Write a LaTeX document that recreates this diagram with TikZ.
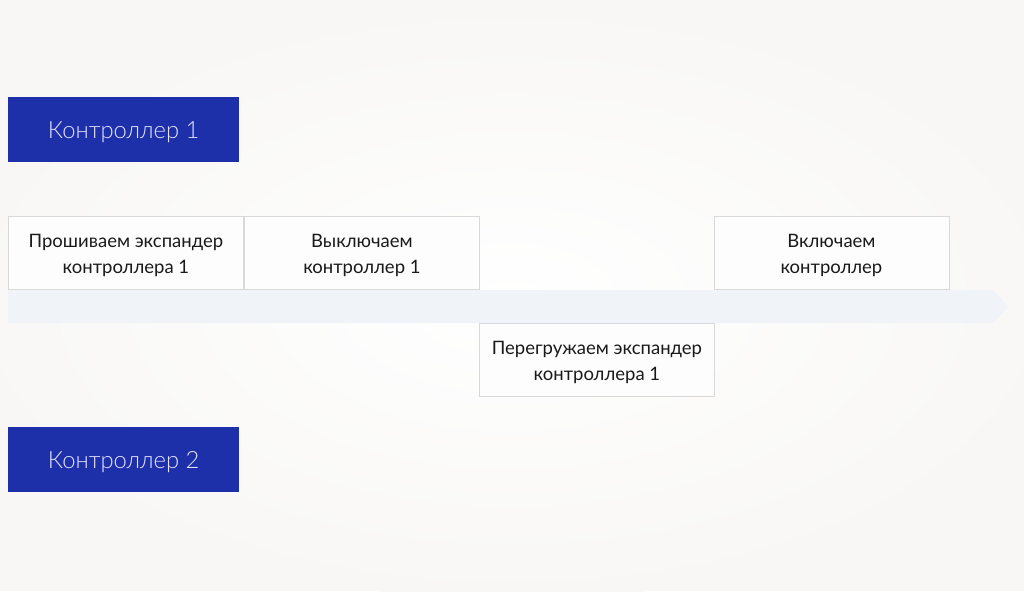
\documentclass[tikz,border=0pt]{standalone}
\usepackage{fontspec}
\setmainfont{Lato}
\newfontfamily\lightfont{Lato Light}
\definecolor{bgc}{HTML}{F8F7F5}
\definecolor{ctrlblue}{HTML}{1E2FAA}
\definecolor{ctrltext}{HTML}{E2E4FF}
\definecolor{boxline}{HTML}{D9D9D9}
\definecolor{boxfill}{HTML}{FDFDFD}
\definecolor{arrowfill}{HTML}{F0F3F7}
\definecolor{txt}{HTML}{1A1A1A}
\tikzset{
  ctrlbox/.style={fill=ctrlblue, draw=none, text=ctrltext, minimum width=231pt, minimum height=65pt,
    inner sep=0pt, anchor=north west, font=\lightfont\fontsize{23.8}{29}\selectfont},
  stagebox/.style={fill=boxfill, draw=boxline, line width=0.8pt, text=txt, minimum width=235pt, minimum height=73pt,
    inner sep=0pt, anchor=north west, align=center, font=\fontsize{18.5}{26}\selectfont},
  stagetext/.style={inner sep=0pt, align=center, text=txt, font=\fontsize{18.5}{26}\selectfont}
}
\begin{document}
\begin{tikzpicture}[x=1pt,y=-1pt]
\useasboundingbox (0,0) rectangle (1024,591);
\fill[bgc] (0,0) rectangle (1024,591);
\shade[inner color=white, outer color=bgc] (512,300) ellipse (560 and 300);
% timeline arrow
\fill[arrowfill] (8,290) -- (993,290) -- (1008,306.5) -- (993,323) -- (8,323) -- cycle;
% controllers
\node[ctrlbox] (c1) at (8,97) {};
\node[ctrlbox] (c2) at (8,427) {};
\node[ctrlbox, fill=none, minimum height=0pt, anchor=center] (c1t) at ([yshift=-2pt]c1.center) {Контроллер 1};
\node[ctrlbox, fill=none, minimum height=0pt, anchor=center] (c2t) at ([yshift=-2pt]c2.center) {Контроллер 2};
% stages
\node[stagebox] (s1) at (8,216) {};
\node[stagebox] (s2) at (244,216) {};
\node[stagebox] (s3) at (479,323) {};
\node[stagebox] (s4) at (713.5,216) {};
\node[stagetext] (t1) at ([yshift=-3pt]s1.center) {Прошиваем экспандер\\контроллера 1};
\node[stagetext] (t2) at ([yshift=-3pt]s2.center) {Выключаем\\контроллер 1};
\node[stagetext] (t3) at ([yshift=-3pt]s3.center) {Перегружаем экспандер\\контроллера 1};
\node[stagetext] (t4) at ([yshift=-3pt]s4.center) {Включаем\\контроллер};
\end{tikzpicture}
\end{document}
